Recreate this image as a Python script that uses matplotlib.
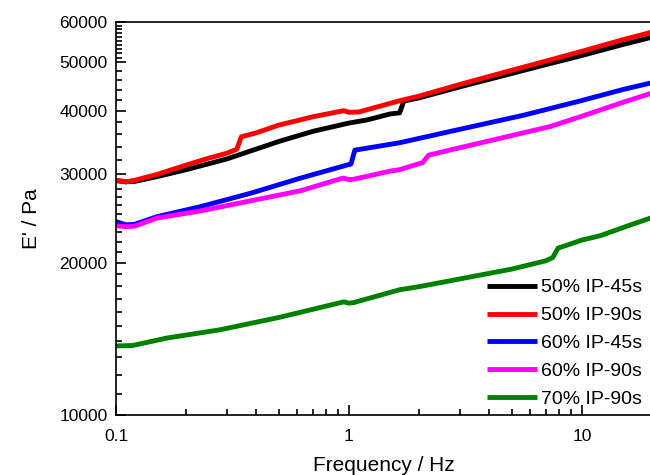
import matplotlib
matplotlib.use("Agg")
import matplotlib.pyplot as plt
from matplotlib.ticker import FixedLocator, NullFormatter, LogLocator

plt.rcParams['font.family'] = ['Liberation Sans', 'DejaVu Sans']

# 50% IP-45s
f_50_45 = [0.1, 0.11, 0.12, 0.15, 0.2, 0.3, 0.5, 0.7, 1.0, 1.2, 1.5, 1.65, 1.72,
           2.0, 3.0, 5.0, 7.0, 10.0, 15.0, 20.0]
E_50_45 = [29100, 28950, 29000, 29650, 30600, 32150, 34800, 36450, 37850, 38400,
           39450, 39650, 41850, 42450, 44650, 47450, 49400, 51500, 54150, 56000]

# 50% IP-90s
f_50_90 = [0.1, 0.11, 0.12, 0.15, 0.2, 0.25, 0.3, 0.33, 0.345, 0.4, 0.5, 0.7, 0.95,
           1.0, 1.1, 1.3, 1.65, 2.0, 3.0, 5.0, 7.0, 10.0, 15.0, 20.0]
E_50_90 = [29200, 28950, 29150, 29950, 31250, 32250, 33000, 33600, 35550, 36200,
           37500, 38950, 40050, 39750, 39800, 40650, 41900, 42800, 45150, 48150,
           50200, 52500, 55350, 57300]

# 60% IP-45s
f_60_45 = [0.1, 0.11, 0.12, 0.15, 0.23, 0.38, 0.62, 0.98, 1.02, 1.06, 1.65, 2.7,
           5.65, 10.0, 15.0, 20.0]
E_60_45 = [24150, 23800, 23850, 24700, 25850, 27500, 29450, 31250, 31400, 33450,
           34600, 36400, 39250, 41950, 44100, 45500]

# 60% IP-90s
f_60_90 = [0.1, 0.11, 0.12, 0.15, 0.23, 0.62, 0.94, 1.0, 1.05, 1.5, 1.65, 2.02,
           2.07, 2.2, 2.7, 5.0, 7.3, 10.0, 15.0, 20.0]
E_60_90 = [23700, 23600, 23650, 24550, 25350, 27800, 29450, 29250, 29300, 30400,
           30600, 31500, 31600, 32700, 33450, 35750, 37250, 39050, 41600, 43400]

# 70% IP-90s
f_70_90 = [0.1, 0.118, 0.165, 0.28, 0.5, 0.95, 1.0, 1.05, 1.65, 2.0, 3.0, 5.0,
           7.0, 7.5, 7.9, 10.0, 12.0, 16.0, 20.0]
E_70_90 = [13700, 13730, 14200, 14750, 15600, 16750, 16650, 16700, 17700, 17950,
           18600, 19450, 20200, 20500, 21400, 22200, 22650, 23750, 24600]

series = [
    (f_50_45, E_50_45, '50% IP-45s', 'black'),
    (f_50_90, E_50_90, '50% IP-90s', 'red'),
    (f_60_45, E_60_45, '60% IP-45s', 'blue'),
    (f_60_90, E_60_90, '60% IP-90s', 'magenta'),
    (f_70_90, E_70_90, '70% IP-90s', 'green'),
]

fig = plt.figure(figsize=(6.5, 4.75), dpi=100)
ax = fig.add_axes([0.1785, 0.1263, 0.8246, 0.8274])

for f, E, lab, col in series:
    ax.plot(f, E, color=col, lw=3.5, label=lab, solid_capstyle='butt')

ax.set_xscale('log')
ax.set_yscale('log')
ax.set_xlim(0.1, 20)
ax.set_ylim(10000, 60000)

# tick marks
y_major = [10000, 20000, 30000, 40000, 50000, 60000]
y_minor = (list(range(11000, 20000, 1000)) + list(range(21000, 30000, 1000))
           + list(range(32000, 50000, 2000)) + list(range(51000, 60000, 1000)))
ax.yaxis.set_major_locator(FixedLocator(y_major))
ax.yaxis.set_minor_locator(FixedLocator(y_minor))
ax.set_yticklabels([str(v) for v in y_major])
ax.yaxis.set_minor_formatter(NullFormatter())

ax.xaxis.set_major_locator(FixedLocator([0.1, 1, 10]))
ax.set_xticklabels(['0.1', '1', '10'])
ax.xaxis.set_minor_locator(LogLocator(base=10, subs=range(2, 10)))
ax.xaxis.set_minor_formatter(NullFormatter())

ax.tick_params(which='both', direction='in', top=False, right=False,
               labelsize=12.5, width=1.2)
ax.tick_params(axis='y', which='both', pad=6)
ax.tick_params(axis='x', which='both', pad=10)
ax.tick_params(which='major', length=7)
ax.tick_params(which='minor', length=4)
for s in ax.spines.values():
    s.set_linewidth(1.2)

ax.set_xlabel('Frequency / Hz', fontsize=15, labelpad=9)
ax.set_ylabel("E' / Pa", fontsize=15, labelpad=13)

ax.legend(loc='upper left', bbox_to_anchor=(0.749, 0.413),
          bbox_transform=fig.transFigure, frameon=False, fontsize=14,
          handlelength=2.6, handletextpad=0.2, labelspacing=0.53,
          borderpad=0, borderaxespad=0)

fig.savefig('out.png', dpi=100)
